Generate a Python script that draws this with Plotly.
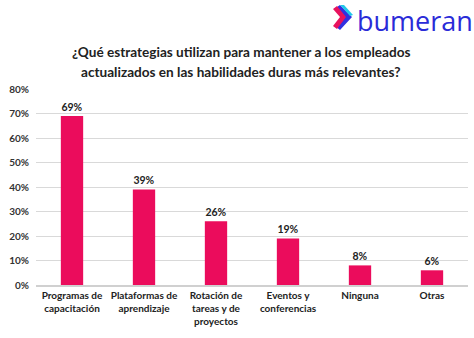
import plotly.graph_objects as go

categories = ["Programas de<br>capacitación", "Plataformas de<br>aprendizaje",
              "Rotación de<br>tareas y de<br>proyectos", "Eventos y<br>conferencias",
              "Ninguna", "Otras"]
values = [0.69, 0.39, 0.26, 0.19, 0.08, 0.06]
labels = ["69%", "39%", "26%", "19%", "8%", "6%"]
tick_vals = [0, 0.1, 0.2, 0.3, 0.4, 0.5, 0.6, 0.7, 0.8]
tick_text = ["0%", "10%", "20%", "30%", "40%", "50%", "60%", "70%", "80%"]
title_lines = ["¿Qué estrategias utilizan para mantener a los empleados",
               "actualizados en las habilidades duras más relevantes?"]

W, H = 474, 338
L, R, T, B = 36, 6, 89, 53
FONT = "Lato"
fig = go.Figure(go.Bar(
    x=categories, y=values, text=labels, textposition="outside",
    textfont=dict(family=FONT, size=10.5, color="#222222", weight="bold"),
    marker=dict(color="#EB0C5C", line=dict(width=0)),
    cliponaxis=False,
))
fig.update_layout(
    width=W, height=H, margin=dict(l=L, r=R, t=T, b=B),
    paper_bgcolor="white", plot_bgcolor="white", showlegend=False,
    bargap=0.69,
    font=dict(family=FONT, color="#222222"),
    xaxis=dict(tickfont=dict(family=FONT, size=10, color="#222222", weight="bold"),
               showline=True, linecolor="#D0D0D0", linewidth=2, ticks="", fixedrange=True),
    yaxis=dict(range=[0, 0.8], tickvals=tick_vals, ticktext=tick_text,
               tickfont=dict(family=FONT, size=10, color="#333333", weight="bold"),
               showgrid=True, gridcolor="#D9D9D9", gridwidth=1, zeroline=False,
               showline=False, ticks="", ticklabelstandoff=6),
)

def px(x, y):
    return (x - L) / (W - L - R), (H - B - y) / (H - T - B)

# title (two lines)
for line, yy in zip(title_lines, [52, 72]):
    tx, ty = px(W / 2 + 4, yy)
    fig.add_annotation(text=f"<b>{line}</b>", xref="paper", yref="paper", x=tx, y=ty,
                       xanchor="center", yanchor="middle", showarrow=False,
                       font=dict(family=FONT, size=13.6, color="#222222"))

# bumeran logo
def path(pts):
    return "M " + " L ".join(f"{px(x,y)[0]},{px(x,y)[1]}" for x, y in pts) + " Z"
fig.add_shape(type="path", path=path([(334, 9), (340, 5), (352, 17), (340, 30), (335, 26), (344, 17)]),
              xref="paper", yref="paper", fillcolor="#3130E0", line=dict(width=0))
fig.add_shape(type="path", path=path([(333, 9), (337, 6), (346, 17), (337, 29), (333, 26), (340, 17)]),
              xref="paper", yref="paper", fillcolor="#E8125E", line=dict(width=0))
fig.add_shape(type="path", path=path([(340, 5), (344, 5), (353, 15), (350, 16)]),
              xref="paper", yref="paper", fillcolor="#22C7E8", line=dict(width=0))
lx, ly = px(355, 0)
fig.add_annotation(text="bumeran", xref="paper", yref="paper", x=lx, y=ly,
                   xanchor="left", yanchor="top", showarrow=False,
                   font=dict(family="Open Sans", size=27, color="#2A2BD8"))

fig.write_html("out.html")
